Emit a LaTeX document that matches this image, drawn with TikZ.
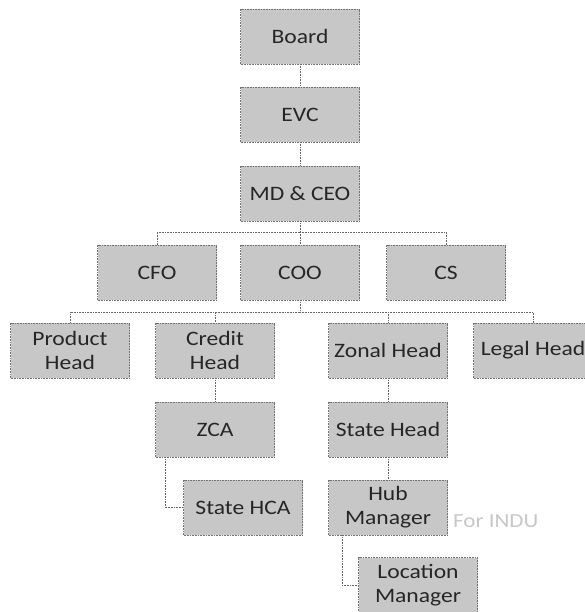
\documentclass[tikz,border=0pt]{standalone}
\usepackage{fontspec}
\setmainfont{Carlito}[FakeStretch=1.15]
\tikzset{
  box/.style={draw=black!55, densely dotted, line width=0.6pt, fill=black!22,
    minimum width=119pt, minimum height=55pt, inner sep=1pt, align=center,
    text=black!85, font=\fontsize{20.5}{24}\selectfont},
  link/.style={draw=black!60, densely dotted, line width=0.6pt},
  wm/.style={text=black!22, font=\fontsize{20}{24}\selectfont, anchor=west, inner sep=0pt}
}
\begin{document}
\begin{tikzpicture}[x=1pt,y=-1pt]
\useasboundingbox (0,0) rectangle (585,612);
\clip (0,0) rectangle (585,612);
\node[box] (board) at (300,36.5) {Board};
\node[box] (evc) at (300,114.5) {EVC};
\node[box] (md) at (300,193.5) {MD \& CEO};
\node[box] (cfo) at (157,272.5) {CFO};
\node[box] (coo) at (300,272.5) {COO};
\node[box] (cs) at (446,272.5) {CS};
\node[box] (prod) at (70,350.5) {Product\\Head};
\node[box] (credit) at (215,350.5) {Credit\\Head};
\node[box] (zonal) at (388,350.5) {Zonal Head};
\node[box] (legal) at (533,350.5) {Legal Head};
\node[box] (zca) at (215,429.5) {ZCA};
\node[box] (state) at (388,429.5) {State Head};
\node[box] (hca) at (243,507.5) {State HCA};
\node[box] (hub) at (388,507.5) {Hub\\Manager};
\node[box] (loc) at (418,585) {Location\\Manager};
\node[wm] (wmark) at (453,521) {For INDU};
\coordinate (b1) at (300,232);
\coordinate (b2) at (300,312);
\draw[link] (board) -- (evc);
\draw[link] (evc) -- (md);
\draw[link] (md) -- (b1);
\draw[link] (b1) -| (cfo.north);
\draw[link] (b1) -| (cs.north);
\draw[link] (b1) -- (coo.north);
\draw[link] (coo) -- (b2);
\draw[link] (b2) -| (prod.north);
\draw[link] (b2) -| (credit.north);
\draw[link] (b2) -| (zonal.north);
\draw[link] (b2) -| (legal.north);
\draw[link] (credit) -- (zca);
\draw[link] ([xshift=-50pt]zca.south) |- (hca.west);
\draw[link] (zonal) -- (state);
\draw[link] (state) -- (hub);
\draw[link] ([xshift=-46pt]hub.south) |- (loc.west);
\end{tikzpicture}
\end{document}
